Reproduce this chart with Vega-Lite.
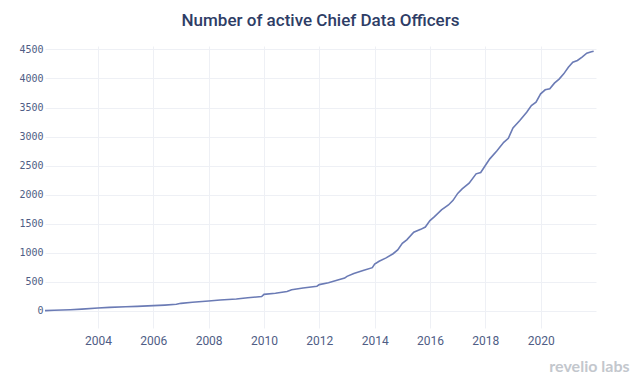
{
  "$schema": "https://vega.github.io/schema/vega-lite/v6.json",
  "width": 551,
  "height": 282,
  "autosize": {"type": "none"},
  "padding": {"left": 45, "top": 46, "right": 44, "bottom": 53},
  "background": "white",
  "title": {
    "text": "Number of active Chief Data Officers",
    "font": "Roboto",
    "fontSize": 17,
    "fontWeight": 500,
    "color": "#2e3d66",
    "anchor": "middle",
    "offset": 14
  },
  "config": {"view": {"stroke": null}},
  "data": {
    "values": [
      {"date": "2002-02-01", "n": 0},
      {"date": "2002-06-01", "n": 5},
      {"date": "2003-01-01", "n": 15},
      {"date": "2003-06-01", "n": 25},
      {"date": "2004-01-01", "n": 45},
      {"date": "2004-06-01", "n": 55},
      {"date": "2005-01-01", "n": 65},
      {"date": "2005-06-01", "n": 72},
      {"date": "2006-01-01", "n": 85},
      {"date": "2006-06-01", "n": 95},
      {"date": "2006-11-01", "n": 108},
      {"date": "2007-01-01", "n": 125},
      {"date": "2007-06-01", "n": 145},
      {"date": "2008-01-01", "n": 165},
      {"date": "2008-06-01", "n": 182},
      {"date": "2009-01-01", "n": 200},
      {"date": "2009-06-01", "n": 220},
      {"date": "2009-12-01", "n": 242},
      {"date": "2010-01-01", "n": 280},
      {"date": "2010-06-01", "n": 300},
      {"date": "2010-11-01", "n": 330},
      {"date": "2011-01-01", "n": 360},
      {"date": "2011-06-01", "n": 390},
      {"date": "2011-12-01", "n": 420},
      {"date": "2012-01-01", "n": 448},
      {"date": "2012-05-01", "n": 480},
      {"date": "2012-09-01", "n": 528},
      {"date": "2012-12-01", "n": 560},
      {"date": "2013-01-01", "n": 590},
      {"date": "2013-04-01", "n": 640},
      {"date": "2013-08-01", "n": 690},
      {"date": "2013-12-01", "n": 740},
      {"date": "2014-01-01", "n": 800},
      {"date": "2014-03-01", "n": 850},
      {"date": "2014-06-01", "n": 908},
      {"date": "2014-09-01", "n": 980},
      {"date": "2014-11-01", "n": 1046},
      {"date": "2015-01-01", "n": 1160},
      {"date": "2015-03-01", "n": 1220},
      {"date": "2015-06-01", "n": 1350},
      {"date": "2015-09-01", "n": 1400},
      {"date": "2015-11-01", "n": 1440},
      {"date": "2016-01-01", "n": 1550},
      {"date": "2016-03-01", "n": 1620},
      {"date": "2016-06-01", "n": 1736},
      {"date": "2016-09-01", "n": 1820},
      {"date": "2016-11-01", "n": 1900},
      {"date": "2017-01-01", "n": 2020},
      {"date": "2017-03-01", "n": 2098},
      {"date": "2017-06-01", "n": 2195},
      {"date": "2017-09-01", "n": 2357},
      {"date": "2017-11-01", "n": 2380},
      {"date": "2018-01-01", "n": 2500},
      {"date": "2018-03-01", "n": 2615},
      {"date": "2018-06-01", "n": 2750},
      {"date": "2018-09-01", "n": 2900},
      {"date": "2018-11-01", "n": 2970},
      {"date": "2019-01-01", "n": 3149},
      {"date": "2019-04-01", "n": 3276},
      {"date": "2019-07-01", "n": 3420},
      {"date": "2019-09-01", "n": 3534},
      {"date": "2019-11-01", "n": 3592},
      {"date": "2020-01-01", "n": 3736},
      {"date": "2020-03-01", "n": 3805},
      {"date": "2020-05-01", "n": 3822},
      {"date": "2020-07-01", "n": 3920},
      {"date": "2020-09-01", "n": 3990},
      {"date": "2020-11-01", "n": 4080},
      {"date": "2021-01-01", "n": 4195},
      {"date": "2021-03-01", "n": 4281},
      {"date": "2021-05-01", "n": 4310},
      {"date": "2021-07-01", "n": 4370},
      {"date": "2021-09-01", "n": 4437},
      {"date": "2021-11-01", "n": 4460},
      {"date": "2021-12-01", "n": 4470}
    ]
  },
  "mark": {"type": "line", "color": "#6b7bb5", "strokeWidth": 1.6, "interpolate": "linear"},
  "encoding": {
    "x": {
      "field": "date",
      "type": "temporal",
      "scale": {"domain": ["2002-02-01", "2022-01-01"]},
      "axis": {
        "values": [{"year": 2004}, {"year": 2006}, {"year": 2008}, {"year": 2010}, {"year": 2012}, {"year": 2014}, {"year": 2016}, {"year": 2018}, {"year": 2020}],
        "format": "%Y",
        "domain": false,
        "ticks": false,
        "grid": true,
        "gridColor": "#eef0f5",
        "gridWidth": 1,
        "labelFont": "Roboto",
        "labelFontSize": 12,
        "labelColor": "#4f5d85",
        "labelPadding": 7,
        "title": "revelio labs",
        "titleFont": "Lato",
        "titleFontSize": 16,
        "titleFontWeight": "bold",
        "titleColor": "#c3c7cd",
        "titleAnchor": "end",
        "titleAlign": "right",
        "titleX": 584,
        "titlePadding": 12
      }
    },
    "y": {
      "field": "n",
      "type": "quantitative",
      "scale": {"domain": [-300, 4560], "nice": false, "zero": false},
      "axis": {
        "values": [0, 500, 1000, 1500, 2000, 2500, 3000, 3500, 4000, 4500],
        "format": "d",
        "domain": false,
        "ticks": false,
        "grid": true,
        "gridColor": "#eef0f5",
        "gridWidth": 1,
        "labelFont": "DejaVu Sans Mono",
        "labelFontSize": 10,
        "labelColor": "#4f5d85",
        "labelPadding": 2,
        "title": null
      }
    }
  }
}
